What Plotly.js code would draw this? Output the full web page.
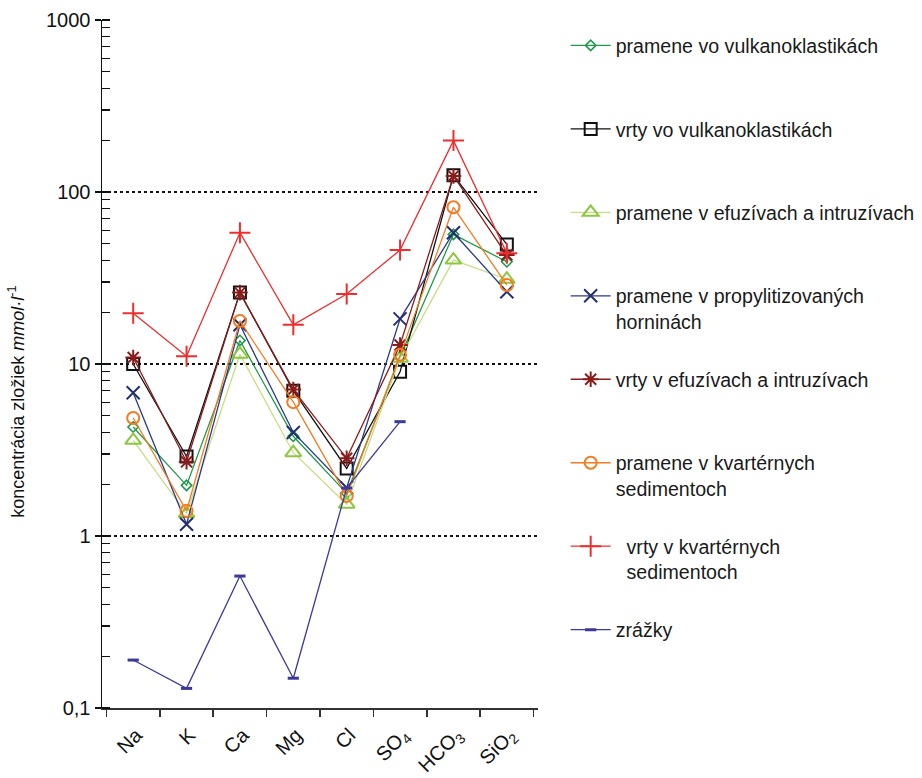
<!DOCTYPE html>
<html>
<head>
<meta charset="utf-8">
<script src="https://cdn.plot.ly/plotly-3.0.1.min.js"></script>
<style>html,body{margin:0;padding:0;background:#fff;}#chart{width:922px;height:778px;}</style>
</head>
<body>
<div id="chart"></div>
<script>
const categories = ['Na', 'K', 'Ca', 'Mg', 'Cl', 'SO<sub>4</sub>', 'HCO<sub>3</sub>', 'SiO<sub>2</sub>'];

const prameneVulkanoklastika = [4.3, 1.97, 13.7, 3.8, 1.77, 11.0, 56.7, 39.3];
const vrtyVulkanoklastika    = [10.0, 2.9, 26.0, 7.0, 2.47, 9.0, 125, 49.6];
const prameneEfuziva         = [3.6, 1.35, 11.4, 3.05, 1.53, 10.8, 40.2, 31.1];
const pramenePropylit        = [6.8, 1.17, 16.9, 4.0, 1.91, 18.3, 58, 26.3];
const vrtyEfuziva            = [10.9, 2.7, 26.0, 7.1, 2.83, 12.9, 124, 43];
const prameneKvarter         = [4.85, 1.40, 17.8, 6.0, 1.71, 11.3, 81.5, 28.8];
const vrtyKvarter            = [19.7, 11.1, 58, 16.9, 25.5, 46, 199, 44];
const zrazky                 = [0.19, 0.13, 0.585, 0.149, 1.9, 4.62];

const NB = '\u00a0';
const seriesNames = [
  'pramene vo vulkanoklastikách<br>' + NB,
  'vrty vo vulkanoklastikách<br>' + NB,
  'pramene v efuzívach a intruzívach<br>' + NB,
  'pramene v propylitizovaných<br>horninách',
  'vrty v efuzívach a intruzívach<br>' + NB,
  'pramene v kvartérnych<br>sedimentoch',
  NB + NB + 'vrty v kvartérnych<br>' + NB + NB + 'sedimentoch',
  'zrážky<br>' + NB
];

function tr(i, y, color, symbol, size, mcolor, mwidth) {
  return {
    x: categories.slice(0, y.length), y: y, name: seriesNames[i],
    type: 'scatter', mode: 'lines+markers',
    legendgroup: 'g' + i,
    line: {color: color, width: 1.3},
    marker: {symbol: symbol, size: size, color: mcolor || color, line: {color: mcolor || color, width: mwidth || 1.6}}
  };
}

const data = [
  tr(0, prameneVulkanoklastika, '#1f9a48', 'diamond-open', 8),
  tr(1, vrtyVulkanoklastika, '#111111', 'square-open', 12, '#111111', 2),
  tr(2, prameneEfuziva, '#c6de82', 'triangle-up-open', 14, '#8dc63f', 2),
  tr(3, pramenePropylit, '#2a3a8e', 'x-thin-open', 13, '#22306e', 2),
  tr(4, vrtyEfuziva, '#8b1c1c', 'asterisk-open', 13, '#8b1c1c', 2),
  tr(5, prameneKvarter, '#f47b20', 'circle-open', 12, '#f47b20', 2),
  tr(6, vrtyKvarter, '#ee2e2e', 'cross-thin-open', 15, '#ee2e2e', 2),
  tr(7, zrazky, '#3b3a9c', 'line-ew-open', 8, '#3b3a9c', 3)
];

const layout = {
  width: 922, height: 778,
  margin: {l: 102, r: 384, t: 20, b: 70, autoexpand: false},
  paper_bgcolor: '#fff', plot_bgcolor: '#fff',
  separators: ', ',
  font: {family: 'Liberation Sans, Arial, sans-serif', color: '#111'},
  showlegend: true,
  legend: {
    x: 1.0635, y: 0.991, xanchor: 'left', yanchor: 'top',
    font: {size: 19.6, color: '#1a1a1a'},
    traceorder: 'grouped', tracegroupgap: 29.5, valign: 'top',
    itemwidth: 40, bgcolor: 'rgba(0,0,0,0)'
  },
  xaxis: {
    type: 'category', showline: true, linecolor: '#333', linewidth: 1.5,
    ticks: 'outside', tickson: 'boundaries', ticklen: 7, tickwidth: 1.5, tickcolor: '#333',
    tickangle: -45, tickfont: {size: 20, color: '#111'},
    ticklabelstandoff: 6, ticklabelshift: 3,
    showgrid: false, zeroline: false, fixedrange: true
  },
  yaxis: {
    type: 'log', range: [-1, 3],
    tickmode: 'linear', tick0: 0, dtick: 1,
    showline: true, linecolor: '#111', linewidth: 1.5,
    ticks: 'outside', ticklen: 6, tickwidth: 1.5, tickcolor: '#111',
    tickfont: {size: 20, color: '#111'},
    showgrid: true, gridcolor: '#111', gridwidth: 1.3, griddash: 'dot',
    minor: {ticks: 'inside', ticklen: 8, tickwidth: 1.2, tickcolor: '#111', showgrid: false},
    zeroline: false
  },
  annotations: [{
    xref: 'paper', yref: 'paper', x: -0.195, y: 0.445,
    text: 'koncentrácia zložiek <i>mmol·l</i><sup>-1</sup>',
    textangle: -90, showarrow: false, font: {size: 18, color: '#111'},
    xanchor: 'center', yanchor: 'middle'
  }]
};

Plotly.newPlot('chart', data, layout, {displayModeBar: false, staticPlot: true});
</script>
</body>
</html>
